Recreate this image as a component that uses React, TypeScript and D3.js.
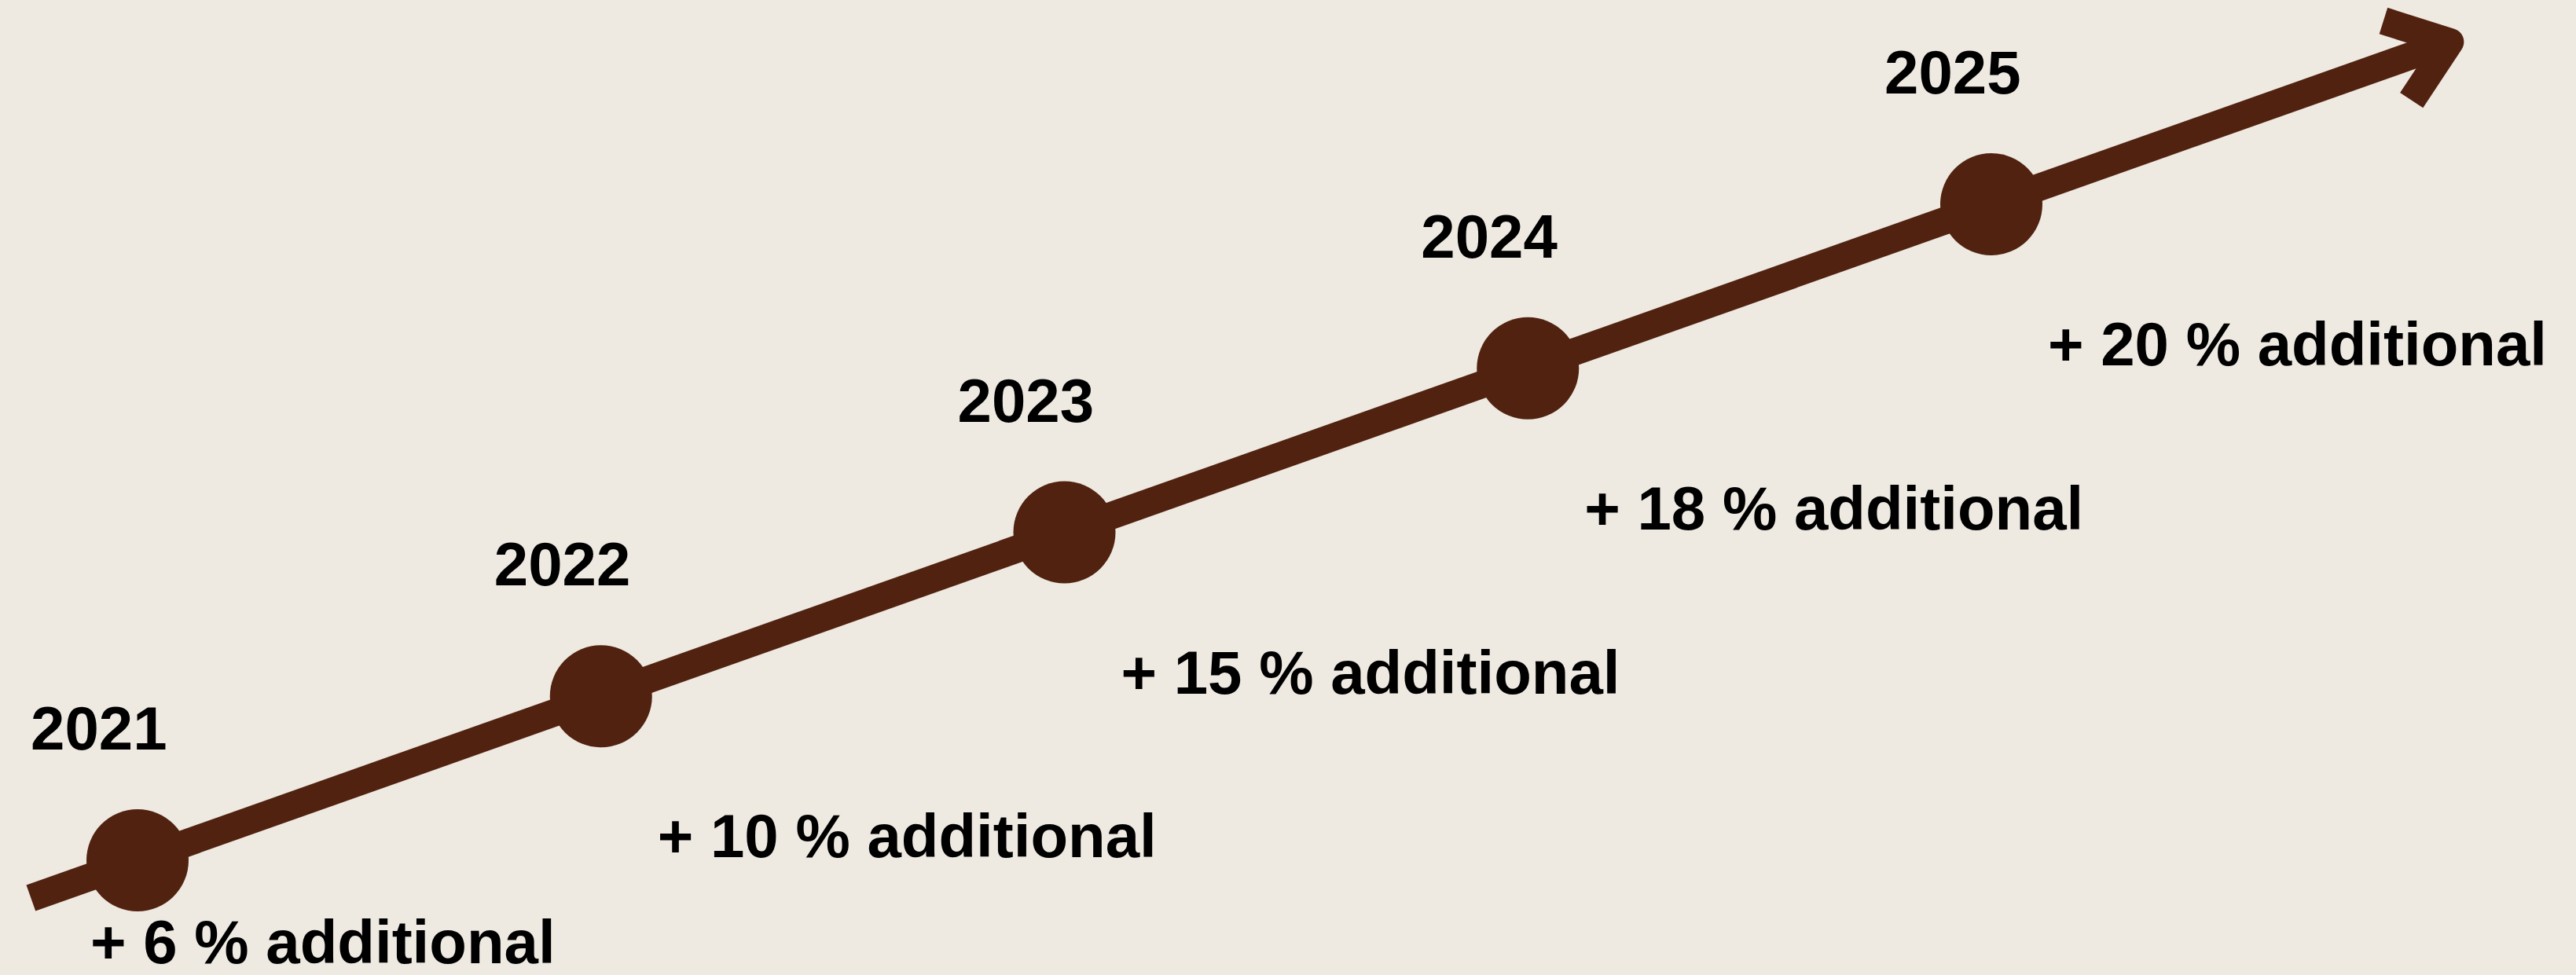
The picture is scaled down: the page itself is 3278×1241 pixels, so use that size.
import { useEffect, useRef } from "react";
import * as d3 from "d3";

// ----- Data -----------------------------------------------------------------
const YEARS = [2021, 2022, 2023, 2024, 2025];
const INCREASES = [6, 10, 15, 18, 20]; // % additional per year
const SUFFIX = "additional";

// ----- Look -----------------------------------------------------------------
const W = 3278;
const H = 1241;
const BROWN = "#512210";
const BG = "#EEE9E1";
const FONT = "'Liberation Sans', Arial, sans-serif";

/**
 * Growth arrow: one dot per year along a rising arrow,
 * year above each dot and the increase below it.
 */
const App = () => {
  const svgRef = useRef<SVGSVGElement | null>(null);

  useEffect(() => {
    document.body.style.margin = "0";
    const svg = d3.select(svgRef.current);
    svg.selectAll("*").remove();

    svg.attr("width", W).attr("height", H).attr("viewBox", `0 0 ${W} ${H}`);
    svg.append("rect").attr("width", W).attr("height", H).attr("fill", BG);

    // the arrow runs along the years, both axes driven by the year
    const x = d3.scaleLinear().domain(d3.extent(YEARS) as [number, number]).range([175, 2534]);
    const y = d3.scaleLinear().domain(d3.extent(YEARS) as [number, number]).range([1095, 260]);

    const startYear = 2020.77; // tail sticks out a bit before the first dot
    const endYear = 2025.99; // arrow tip

    // ----- Shaft ------------------------------------------------------------
    const shaft = d3
      .line<number>()
      .x((d: number) => x(d))
      .y((d: number) => y(d));

    svg
      .append("path")
      .datum([startYear, endYear])
      .attr("d", shaft)
      .attr("fill", "none")
      .attr("stroke", BROWN)
      .attr("stroke-width", 35)
      .attr("stroke-linecap", "butt");

    // ----- Arrow head (open chevron) ---------------------------------------
    const tip: [number, number] = [x(endYear), y(endYear)];
    const ang = Math.atan2(y(endYear) - y(startYear), x(endYear) - x(startYear));
    const back = ang + Math.PI;
    const spread = (37 * Math.PI) / 180;
    const armLen = 89;
    const arm = (a: number): [number, number] => [
      tip[0] + armLen * Math.cos(a),
      tip[1] + armLen * Math.sin(a),
    ];

    svg
      .append("path")
      .attr("d", d3.line()([arm(back - spread), tip, arm(back + spread)]))
      .attr("fill", "none")
      .attr("stroke", BROWN)
      .attr("stroke-width", 35)
      .attr("stroke-linecap", "butt")
      .attr("stroke-linejoin", "round");

    // ----- Dots ------------------------------------------------------------
    svg
      .append("g")
      .selectAll("circle")
      .data(YEARS)
      .join("circle")
      .attr("cx", (d: number) => x(d))
      .attr("cy", (d: number) => y(d))
      .attr("r", 65)
      .attr("fill", BROWN);

    // ----- Labels ----------------------------------------------------------
    const labels = svg
      .append("g")
      .attr("font-family", FONT)
      .attr("font-weight", "bold")
      .attr("font-size", 78)
      .attr("fill", "#000");

    labels
      .selectAll("text.year")
      .data(YEARS)
      .join("text")
      .attr("class", "year")
      .attr("x", (d: number) => x(d) - 136)
      .attr("y", (d: number) => y(d) - 141)
      .text((d: number) => String(d));

    labels
      .selectAll("text.inc")
      .data(INCREASES)
      .join("text")
      .attr("class", "inc")
      // first label sits under-left of its dot (page edge), the rest under-right
      .attr("x", (_: number, i: number) => x(YEARS[i]) + (i === 0 ? -60 : 72))
      .attr("y", (_: number, i: number) => y(YEARS[i]) + (i === 0 ? 131 : 205))
      .attr("xml:space", "preserve")
      .text((d: number) => `+ ${d} % ${SUFFIX}`);
  }, []);

  return (
    <svg
      ref={svgRef}
      style={{ display: "block", position: "absolute", left: 0, top: 0 }}
    />
  );
};

export default App;
